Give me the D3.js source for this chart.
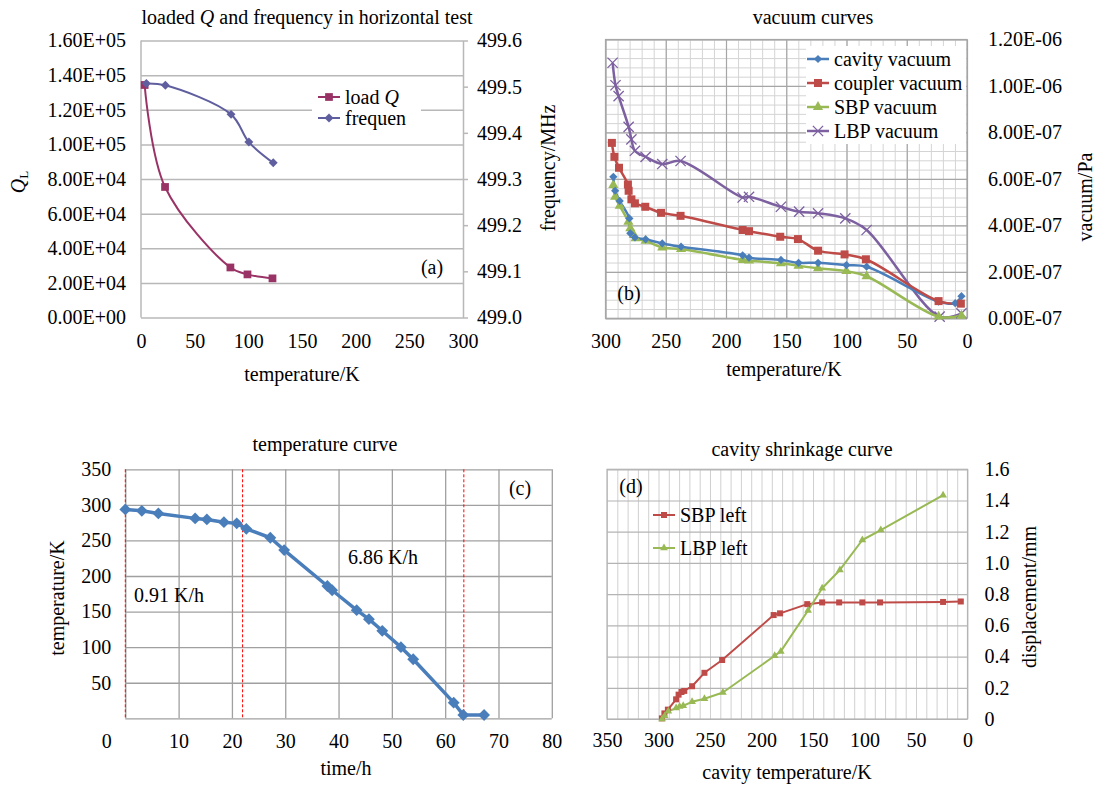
<!DOCTYPE html>
<html>
<head>
<meta charset="utf-8">
<script src="https://cdn.jsdelivr.net/npm/d3@7"></script>
<style>
  body { margin: 0; background: #fff; }
  svg text { font-family: "Liberation Serif", "Times New Roman", serif !important; fill: #000; }
</style>
</head>
<body>
<div id="chart"></div>
<script>
// (a) loaded Q and frequency
const aQTemp = [3.4, 22.4, 83.3, 99.2, 122.5];
const aLoadQ = [134300, 75400, 28900, 24900, 22600];
const aFreqTemp = [5, 22.7, 83.9, 100.5, 123.2];
const aFreq = [499.507, 499.503, 499.44, 499.38, 499.335];
const aXTicks = [0, 50, 100, 150, 200, 250, 300];
const aQTicks = [0, 20000, 40000, 60000, 80000, 100000, 120000, 140000, 160000];
const aQLabels = ["0.00E+00", "2.00E+04", "4.00E+04", "6.00E+04", "8.00E+04", "1.00E+05", "1.20E+05", "1.40E+05", "1.60E+05"];
const aFreqTicks = [499.0, 499.1, 499.2, 499.3, 499.4, 499.5, 499.6];

// (b) vacuum curves
const bCavityTemp = [293.5, 292, 288.2, 280.2, 279.4, 275.6, 266.7, 252.9, 237.3, 186.2, 180.9, 154.4, 139.8, 123.6, 100.1, 83.3, 23.6, 9.8, 4.6];
const bCavity = [6.09e-7, 5.49e-7, 5.05e-7, 4.3e-7, 3.66e-7, 3.48e-7, 3.4e-7, 3.22e-7, 3.08e-7, 2.71e-7, 2.61e-7, 2.51e-7, 2.39e-7, 2.39e-7, 2.29e-7, 2.22e-7, 0.72e-7, 0.65e-7, 0.95e-7];
const bCouplerTemp = [294.7, 292.6, 288.8, 281.4, 280.8, 278.5, 275.6, 267, 253.9, 237.7, 186.2, 180.9, 155, 140.3, 123.6, 101.6, 83.9, 23.6, 5.1];
const bCoupler = [7.55e-7, 6.95e-7, 6.48e-7, 5.76e-7, 5.49e-7, 5.12e-7, 4.95e-7, 4.8e-7, 4.54e-7, 4.41e-7, 3.8e-7, 3.75e-7, 3.51e-7, 3.41e-7, 2.91e-7, 2.75e-7, 2.54e-7, 0.74e-7, 0.63e-7];
const bSBPTemp = [293.5, 292, 288.2, 281, 279.4, 276.5, 275, 266.7, 252.9, 237.3, 186.2, 180.9, 154.4, 139.8, 123.6, 100.1, 83.3, 23.6, 4.6];
const bSBP = [5.73e-7, 5.23e-7, 4.84e-7, 4.15e-7, 3.87e-7, 3.58e-7, 3.44e-7, 3.34e-7, 3.05e-7, 2.98e-7, 2.51e-7, 2.48e-7, 2.37e-7, 2.26e-7, 2.15e-7, 2.03e-7, 1.81e-7, 0.07e-7, 0.11e-7];
const bLBPTemp = [294.1, 291.7, 289.1, 280.8, 278.5, 275.6, 266.7, 252.9, 237.7, 186.2, 180.9, 154.4, 139.3, 123.6, 101, 83.3, 22.7, 4.6];
const bLBP = [11.0e-7, 10.03e-7, 9.56e-7, 8.24e-7, 7.7e-7, 7.21e-7, 6.95e-7, 6.64e-7, 6.77e-7, 5.2e-7, 5.23e-7, 4.8e-7, 4.59e-7, 4.52e-7, 4.3e-7, 3.8e-7, 0.07e-7, 0.21e-7];
const bXTicks = [300, 250, 200, 150, 100, 50, 0];
const bYTicks = [0, 2e-7, 4e-7, 6e-7, 8e-7, 10e-7, 12e-7];
const bYLabels = ["0.00E-07", "2.00E-07", "4.00E-07", "6.00E-07", "8.00E-07", "1.00E-06", "1.20E-06"];
const bLegend = ["cavity vacuum", "coupler vacuum", "SBP vacuum", "LBP vacuum"];

// (c) temperature curve
const cTime = [0, 3.1, 6.2, 13.1, 15.3, 18.5, 20.9, 22.7, 27.2, 29.8, 37.9, 38.8, 43.4, 45.7, 48.2, 51.7, 54.0, 61.6, 63.4, 67.3];
const cTemp = [293.6, 291.6, 288, 281, 279.5, 275.7, 274, 266.3, 253.8, 236.5, 186, 180, 152, 139.4, 123, 100, 83, 22, 4.6, 4.6];
const cXTicks = [0, 10, 20, 30, 40, 50, 60, 70, 80];
const cYTicks = [50, 100, 150, 200, 250, 300, 350];
const cMarkTimes = [0, 22, 63.5];

// (d) cavity shrinkage curve
const dSBPTemp = [296.7, 294.3, 290.9, 282.9, 280.5, 277.7, 275, 267.4, 255.4, 238.2, 188.2, 182, 155.6, 141.1, 124.6, 102.1, 84.9, 23.7, 6.5];
const dSBP = [0.004, 0.036, 0.06, 0.126, 0.156, 0.173, 0.18, 0.21, 0.296, 0.378, 0.666, 0.677, 0.736, 0.747, 0.747, 0.747, 0.747, 0.75, 0.753];
const dLBPTemp = [296.5, 294, 290.5, 282.9, 279.5, 276, 267.4, 255.4, 237.5, 187.2, 181.3, 154.8, 141.1, 123.9, 102.1, 84.2, 23.7];
const dLBP = [0, 0.02, 0.05, 0.07, 0.08, 0.085, 0.11, 0.13, 0.17, 0.405, 0.433, 0.695, 0.838, 0.955, 1.147, 1.211, 1.434];
const dXTicks = [350, 300, 250, 200, 150, 100, 50, 0];
const dYTicks = [0, 0.2, 0.4, 0.6, 0.8, 1.0, 1.2, 1.4, 1.6];
const dYLabels = ["0", "0.2", "0.4", "0.6", "0.8", "1.0", "1.2", "1.4", "1.6"];

const FONT = 20;
const SERIF = '"Liberation Serif", "Times New Roman", serif';

const svg = d3.select("#chart").append("svg")
    .attr("width", 1096)
    .attr("height", 785);
svg.append("rect").attr("width", 1096).attr("height", 785).attr("fill", "#fff");

// helpers
function hGrid(x0, x1, y, ticks, color, sw) {
  svg.append("g")
      .attr("transform", `translate(${x0},0)`)
      .call(d3.axisLeft(y).tickValues(ticks).tickSize(-(x1 - x0)).tickFormat(""))
      .call(g => g.select(".domain").remove())
      .selectAll("line").attr("stroke", color).attr("stroke-width", sw);
}
function vGrid(y0, y1, x, ticks, color, sw) {
  svg.append("g")
      .attr("transform", `translate(0,${y1})`)
      .call(d3.axisBottom(x).tickValues(ticks).tickSize(-(y1 - y0)).tickFormat(""))
      .call(g => g.select(".domain").remove())
      .selectAll("line").attr("stroke", color).attr("stroke-width", sw);
}
function labels(axis, tx, ty) {
  const g = svg.append("g")
      .attr("transform", `translate(${tx},${ty})`)
      .call(axis.tickSize(0))
      .call(g => g.select(".domain").remove());
  g.attr("font-family", SERIF).attr("font-size", FONT);
  g.selectAll("text").style("font-family", SERIF).style("font-size", FONT + "px");
  return g;
}
function text(x, y, str, opts = {}) {
  const t = svg.append("text")
      .attr("x", x).attr("y", y)
      .attr("font-size", opts.size || FONT)
      .attr("text-anchor", opts.anchor || "middle")
      .attr("dominant-baseline", "central")
      .style("font-family", SERIF)
      .text(str);
  if (opts.rotate) t.attr("transform", `rotate(-90,${x},${y})`);
  return t;
}
function series(xs, ys, x, y, color, width, curve) {
  const pts = d3.zip(xs, ys);
  svg.append("path")
      .datum(pts)
      .attr("fill", "none")
      .attr("stroke", color)
      .attr("stroke-width", width)
      .attr("stroke-linejoin", "round")
      .attr("d", d3.line().x(d => x(d[0])).y(d => y(d[1])).curve(curve || d3.curveLinear));
  return pts;
}
function markers(pts, x, y, type, size, color, rot, stroke) {
  svg.append("g").selectAll("path")
      .data(pts)
      .join("path")
      .attr("transform", d => `translate(${x(d[0])},${y(d[1])}) rotate(${rot || 0})`)
      .attr("d", d3.symbol(type, size))
      .attr("fill", stroke ? "none" : color)
      .attr("stroke", stroke ? color : "none")
      .attr("stroke-width", stroke ? 1.3 : 0);
}
function legendItem(x, y, label, color, type, size, rot, stroke, lw) {
  svg.append("line")
      .attr("x1", x).attr("x2", x + 22).attr("y1", y).attr("y2", y)
      .attr("stroke", color).attr("stroke-width", lw || 2);
  markers([[0, 0]], v => x + 11, v => y, type, size, color, rot, stroke);
  return text(x + 27, y, label, {anchor: "start"});
}
const symX = d3.symbolTimes || d3.symbolCross;

// ---------- (a) ----------
{
  const x = d3.scaleLinear().domain([0, 300]).range([141, 463]);
  const y = d3.scaleLinear().domain([0, 160000]).range([317.5, 40.5]);
  const y2 = d3.scaleLinear().domain([499.0, 499.6]).range([317.5, 40.5]);

  hGrid(141, 463, y, aQTicks, "#b8b8b8", 1.5);
  svg.append("line").attr("x1", 141).attr("x2", 141).attr("y1", 40.5).attr("y2", 317.5)
      .attr("stroke", "#b8b8b8").attr("stroke-width", 1.5);
  svg.append("g")
      .attr("transform", "translate(463,0)")
      .call(d3.axisRight(y2).tickValues(aFreqTicks).tickSize(5).tickSizeOuter(0).tickFormat(""))
      .call(g => g.selectAll("line,path").attr("stroke", "#b8b8b8").attr("stroke-width", 1.5));

  labels(d3.axisLeft(y).tickValues(aQTicks).tickPadding(15).tickFormat((d, i) => aQLabels[i]), 141, 0);
  labels(d3.axisRight(y2).tickValues(aFreqTicks).tickPadding(14).tickFormat(d3.format(".1f")), 463, 0);
  labels(d3.axisBottom(x).tickValues(aXTicks).tickPadding(16), 0, 317.5);

  // legend box
  svg.append("rect").attr("x", 312).attr("y", 84).attr("width", 109).attr("height", 46).attr("fill", "#fff");

  const cur = d3.curveCatmullRom.alpha(0.5);
  const qPts = series(aQTemp, aLoadQ, x, y, "#993366", 2, cur);
  markers(qPts, x, y, d3.symbolSquare, 60, "#993366");
  const fPts = series(aFreqTemp, aFreq, x, y2, "#5f5f9f", 2, cur);
  markers(fPts, x, y2, d3.symbolSquare, 40, "#5f5f9f", 45);

  const lq = legendItem(318, 97, "load ", "#993366", d3.symbolSquare, 60);
  lq.append("tspan").attr("font-style", "italic").text("Q");
  legendItem(318, 118, "frequen", "#5f5f9f", d3.symbolSquare, 40, 45);

  text(432, 267, "(a)");
  const t = text(307, 17, "loaded ");
  t.append("tspan").attr("font-style", "italic").text("Q");
  t.append("tspan").text(" and frequency in horizontal test");
  text(302, 374, "temperature/K");
  const ql = text(18, 182, "", {rotate: true});
  ql.append("tspan").attr("font-style", "italic").text("Q");
  ql.append("tspan").attr("font-size", 13).attr("dy", 5).text("L");
  text(548, 168, "frequency/MHz", {rotate: true});
}

// ---------- (b) ----------
{
  const x = d3.scaleLinear().domain([300, 0]).range([605.5, 967]);
  const y = d3.scaleLinear().domain([0, 12e-7]).range([318.3, 39.5]);

  vGrid(39.5, 318.3, x, d3.range(0, 301, 10), "#d4d4d4", 1);
  hGrid(605.5, 967, y, d3.range(0, 12.01e-7, 0.4e-7), "#d4d4d4", 1);
  vGrid(39.5, 318.3, x, bXTicks, "#a6a6a6", 1.2);
  hGrid(605.5, 967, y, bYTicks, "#a6a6a6", 1.2);
  svg.append("rect").attr("x", 605.5).attr("y", 39.5).attr("width", 361.5).attr("height", 278.8)
      .attr("fill", "none").attr("stroke", "#a6a6a6").attr("stroke-width", 1.2);

  labels(d3.axisRight(y).tickValues(bYTicks).tickPadding(21).tickFormat((d, i) => bYLabels[i]), 967, 0);
  labels(d3.axisBottom(x).tickValues(bXTicks).tickPadding(16), 0, 318.3);

  svg.append("rect").attr("x", 806).attr("y", 46).attr("width", 160).attr("height", 98).attr("fill", "#fff");

  const cur = d3.curveCatmullRom.alpha(0.5);
  const pL = series(bLBPTemp, bLBP, x, y, "#7d60a0", 2.5, cur);
  const pS = series(bSBPTemp, bSBP, x, y, "#98b954", 2.5, cur);
  const pCav = series(bCavityTemp, bCavity, x, y, "#4a7ebb", 2.5, cur);
  const pCou = series(bCouplerTemp, bCoupler, x, y, "#be4b48", 2.5, cur);
  markers(pL, x, y, symX, 70, "#7d60a0", 0, true);
  markers(pS, x, y, d3.symbolTriangle, 45, "#98b954");
  markers(pCav, x, y, d3.symbolSquare, 34, "#4a7ebb", 45);
  markers(pCou, x, y, d3.symbolSquare, 64, "#be4b48");

  legendItem(807, 59, bLegend[0], "#4a7ebb", d3.symbolSquare, 34, 45, false, 2.5);
  legendItem(807, 83, bLegend[1], "#be4b48", d3.symbolSquare, 64, 0, false, 2.5);
  legendItem(807, 107, bLegend[2], "#98b954", d3.symbolTriangle, 45, 0, false, 2.5);
  legendItem(807, 131, bLegend[3], "#7d60a0", symX, 70, 0, true, 2.5);

  text(629, 293, "(b)");
  text(813, 17, "vacuum curves");
  text(784, 369, "temperature/K");
  text(1085, 197, "vacuum/Pa", {rotate: true});
}

// ---------- (c) ----------
{
  const x = d3.scaleLinear().domain([0, 80]).range([125.3, 551.8]);
  const y = d3.scaleLinear().domain([0, 350]).range([718.3, 469.3]);

  vGrid(469.3, 718.3, x, cXTicks, "#a0a0a0", 1.3);
  hGrid(125.3, 551.8, y, [0].concat(cYTicks), "#a0a0a0", 1.3);

  labels(d3.axisLeft(y).tickValues(cYTicks).tickPadding(14), 125.3, 0);
  const xl = labels(d3.axisBottom(x).tickValues(cXTicks).tickPadding(16), 0, 718.3);
  xl.selectAll(".tick text").filter(d => d === 0).attr("x", -19);

  svg.append("g").selectAll("line")
      .data(cMarkTimes)
      .join("line")
      .attr("x1", d => x(d)).attr("x2", d => x(d))
      .attr("y1", 469.3).attr("y2", 718.3)
      .attr("stroke", "#ff0000").attr("stroke-width", 1)
      .attr("stroke-dasharray", "3,2");

  const pts = series(cTime, cTemp, x, y, "#4a7ebb", 3.5);
  markers(pts, x, y, d3.symbolSquare, 70, "#4a7ebb", 45);

  text(520, 488, "(c)");
  text(383, 557, "6.86 K/h");
  text(169, 595, "0.91 K/h");
  text(325, 444, "temperature curve");
  text(346, 768, "time/h");
  text(57, 598, "temperature/K", {rotate: true});
}

// ---------- (d) ----------
{
  const x = d3.scaleLinear().domain([350, 0]).range([607, 967.5]);
  const y = d3.scaleLinear().domain([0, 1.6]).range([719, 469.3]);

  vGrid(469.3, 719, x, d3.range(0, 351, 10), "#d0d0d0", 1);
  hGrid(607, 967.5, y, dYTicks, "#b4b4b4", 1.2);
  svg.append("rect").attr("x", 607).attr("y", 469.3).attr("width", 360.5).attr("height", 249.7)
      .attr("fill", "none").attr("stroke", "#b4b4b4").attr("stroke-width", 1.2);

  labels(d3.axisRight(y).tickValues(dYTicks).tickPadding(17).tickFormat((d, i) => dYLabels[i]), 967.5, 0);
  labels(d3.axisBottom(x).tickValues(dXTicks).tickPadding(14), 0, 719);

  const pS = series(dSBPTemp, dSBP, x, y, "#be4b48", 2);
  const pL = series(dLBPTemp, dLBP, x, y, "#98b954", 2);
  markers(pS, x, y, d3.symbolSquare, 36, "#be4b48");
  markers(pL, x, y, d3.symbolTriangle, 26, "#98b954");

  legendItem(653, 515, "SBP left", "#be4b48", d3.symbolSquare, 36);
  legendItem(653, 548, "LBP left", "#98b954", d3.symbolTriangle, 26);

  text(631, 486, "(d)");
  text(802, 449, "cavity shrinkage curve");
  text(787, 772, "cavity temperature/K");
  text(1029, 597, "displacement/mm", {rotate: true});
}
</script>
</body>
</html>
